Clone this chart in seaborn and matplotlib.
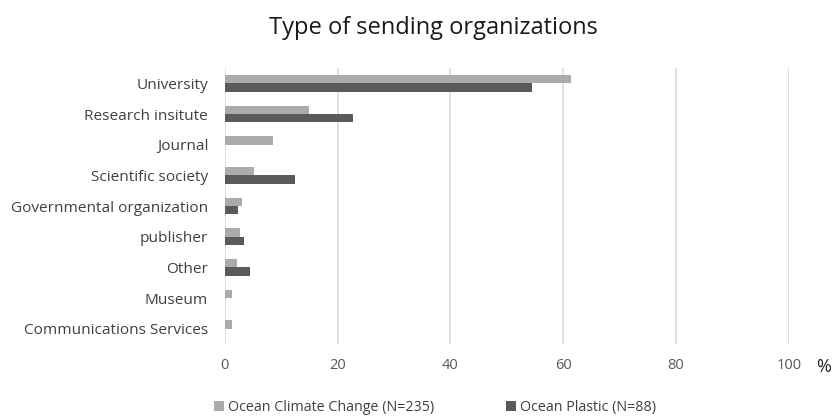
import matplotlib
matplotlib.use("Agg")
import matplotlib.pyplot as plt
import seaborn as sns
import pandas as pd

categories = ["University", "Research insitute", "Journal", "Scientific society",
              "Governmental organization", "publisher", "Other", "Museum",
              "Communications Services"]
climate = [61.3, 14.9, 8.5, 5.1, 3.0, 2.6, 2.1, 1.3, 1.3]
plastic = [54.5, 22.7, 0.0, 12.5, 2.3, 3.4, 4.5, 0.0, 0.0]
series_names = ["Ocean Climate Change (N=235)", "Ocean Plastic (N=88)"]
x_ticks = [0, 20, 40, 60, 80, 100]

df = pd.DataFrame({
    "category": categories * 2,
    "share": climate + plastic,
    "series": [series_names[0]] * len(categories) + [series_names[1]] * len(categories),
})

sns.set_theme(style="white")
plt.rcParams["font.family"] = ["Open Sans", "DejaVu Sans"]

fig = plt.figure(figsize=(8.33, 4.18), dpi=100)
ax = fig.add_axes([0.270, 0.177, 0.677, 0.660])

palette = {series_names[0]: "#ababab", series_names[1]: "#5a5a5a"}
sns.barplot(data=df, y="category", x="share", hue="series", order=categories,
            hue_order=series_names, palette=palette, orient="h",
            width=0.54, saturation=1, linewidth=0, ax=ax, legend=True)

ax.set_xlim(0, 100)
ax.set_xticks(x_ticks)
ax.set_xticklabels([str(t) for t in x_ticks])
ax.set_xlabel("")
ax.set_ylabel("")
for s in ax.spines.values():
    s.set_visible(False)
ax.grid(axis="x", color="#d9d9d9", linewidth=1.2)
ax.set_axisbelow(True)
ax.tick_params(axis="x", length=0, pad=10, labelsize=10.5, labelcolor="#595959")
ax.tick_params(axis="y", length=0, pad=12, labelsize=11.1, labelcolor="#404040")

fig.text(0.998, 0.122, "%", fontsize=13, color="#262626", ha="right", va="center")
fig.text(0.52, 0.933, "Type of sending organizations", fontsize=17,
         color="#1a1a1a", ha="center", va="center")

handles, labels = ax.get_legend_handles_labels()
ax.get_legend().remove()
fig.legend(handles, labels, loc="center", bbox_to_anchor=(0.522, 0.025), ncol=2,
           frameon=False, fontsize=10.3, handlelength=0.7, handleheight=0.7,
           handletextpad=0.3, columnspacing=5.0, labelcolor="#404040")

fig.savefig("out.png", dpi=100)
